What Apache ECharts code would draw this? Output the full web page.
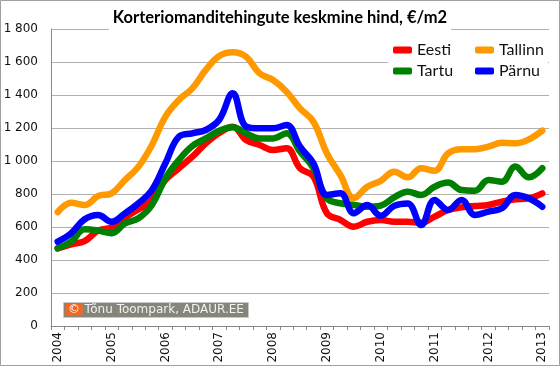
<!DOCTYPE html>
<html>
<head>
<meta charset="utf-8">
<script src="https://cdn.jsdelivr.net/npm/echarts@6/dist/echarts.min.js"></script>
<style>
html,body{margin:0;padding:0;background:#fff;}
#c{width:560px;height:366px;}
</style>
</head>
<body>
<div id="c"></div>
<script>
var quarters = [
 '2004 Q1','2004 Q2','2004 Q3','2004 Q4',
 '2005 Q1','2005 Q2','2005 Q3','2005 Q4',
 '2006 Q1','2006 Q2','2006 Q3','2006 Q4',
 '2007 Q1','2007 Q2','2007 Q3','2007 Q4',
 '2008 Q1','2008 Q2','2008 Q3','2008 Q4',
 '2009 Q1','2009 Q2','2009 Q3','2009 Q4',
 '2010 Q1','2010 Q2','2010 Q3','2010 Q4',
 '2011 Q1','2011 Q2','2011 Q3','2011 Q4',
 '2012 Q1','2012 Q2','2012 Q3','2012 Q4',
 '2013 Q1'
];
var eesti = [470,495,515,578,598,658,707,764,885,956,1026,1107,1170,1208,1127,1097,1067,1077,956,905,683,643,602,632,642,632,632,626,663,703,719,727,733,754,768,774,804];
var tallinn = [690,747,733,788,804,885,966,1097,1269,1370,1440,1552,1636,1659,1632,1531,1491,1420,1319,1238,1046,915,775,844,880,935,901,956,941,1046,1071,1071,1087,1111,1107,1131,1184];
var tartu = [471,511,586,578,562,622,653,733,895,1006,1091,1137,1183,1204,1168,1137,1137,1168,1057,956,774,744,733,723,730,780,814,794,844,869,824,820,885,875,966,901,956];
var parnu = [511,562,647,673,632,683,744,824,986,1147,1168,1188,1250,1410,1208,1198,1198,1218,1087,986,794,804,683,733,668,728,743,612,764,703,764,673,693,713,794,774,723];
var seriesNames = ['Eesti','Tallinn','Tartu','Pärnu'];
var titleText = 'Korteriomanditehingute keskmine hind, €/m2';
var creditText = 'Tõnu Toompark, ADAUR.EE';

var colors = ['#ff0000','#ff9900','#008000','#0000ff'];
var values = [eesti, tallinn, tartu, parnu];

var chart = echarts.init(document.getElementById('c'));
var series = seriesNames.map(function(n, i){
  return {
    name: n, type: 'line', data: values[i], smooth: 0.4, symbol: 'none',
    lineStyle: {color: colors[i], width: 6.5, cap: 'round', join: 'round'},
    itemStyle: {color: colors[i]},
    z: 2 + i
  };
});
var legendCommon = {
  orient: 'vertical', icon: 'roundRect', itemWidth: 19, itemHeight: 7,
  itemGap: 5, padding: 0,
  textStyle: {fontFamily: 'Lato', fontSize: 16, color: '#111', lineHeight: 16},
  z: 10
};
chart.setOption({
  animation: false,
  backgroundColor: '#fff',
  title: {
    text: titleText, left: 'center', top: 4,
    padding: [4, 4, 7, 4], backgroundColor: '#fff',
    textStyle: {fontFamily: 'Lato', fontWeight: 'bold', fontSize: 16.5, color: '#000', lineHeight: 20}
  },
  legend: [
    Object.assign({data: ['Eesti','Tartu'], left: 393, top: 42}, legendCommon),
    Object.assign({data: ['Tallinn','Pärnu'], left: 475, top: 42}, legendCommon)
  ],
  grid: {left: 51, right: 11, top: 29, bottom: 40, containLabel: false},
  xAxis: {
    type: 'category', data: quarters, boundaryGap: true,
    axisLine: {show: true, lineStyle: {color: '#888', width: 1}},
    axisTick: {show: true, interval: 0, length: 4, lineStyle: {color: '#888'}},
    axisLabel: {
      interval: 3, rotate: 90, margin: 6,
      fontFamily: 'DejaVu Sans', fontSize: 12, color: '#111',
      formatter: function(v){ return v.slice(0, 4); }
    },
    splitLine: {show: false}
  },
  yAxis: {
    type: 'value', min: 0, max: 1800, interval: 200,
    axisLine: {show: true, lineStyle: {color: '#888', width: 1}},
    axisTick: {show: false},
    axisLabel: {
      margin: 13, fontFamily: 'DejaVu Sans', fontSize: 12, color: '#111',
      formatter: function(v){ return String(v).replace(/\B(?=(\d{3})+(?!\d))/g, ' '); }
    },
    splitLine: {show: true, lineStyle: {color: '#b0b0b0', width: 1}}
  },
  graphic: [
    {type: 'rect', z: 1, shape: {x: 388, y: 36, width: 160, height: 42}, style: {fill: '#fff'}},
    {type: 'group', left: 63, top: 302, z: 20, children: [
      {type: 'rect', shape: {x: 0, y: 0, width: 185, height: 15}, style: {fill: '#858579', stroke: '#c8c8c8', lineWidth: 1}},
      {type: 'rect', shape: {x: 2, y: 1.5, width: 17, height: 12}, style: {fill: '#f26522'}},
      {type: 'text', x: 10.5, y: 7.5, style: {text: '©', fill: '#fff', font: '12px "DejaVu Sans"', align: 'center', verticalAlign: 'middle'}},
      {type: 'text', x: 21, y: 7.5, style: {text: creditText, fill: '#f2f2f2', font: '12px "DejaVu Sans"', align: 'left', verticalAlign: 'middle'}}
    ]},
    {type: 'rect', z: 30, shape: {x: 0.5, y: 0.5, width: 559, height: 365}, style: {fill: 'none', stroke: '#a0a0a0', lineWidth: 1}}
  ],
  series: series
});
</script>
</body>
</html>
